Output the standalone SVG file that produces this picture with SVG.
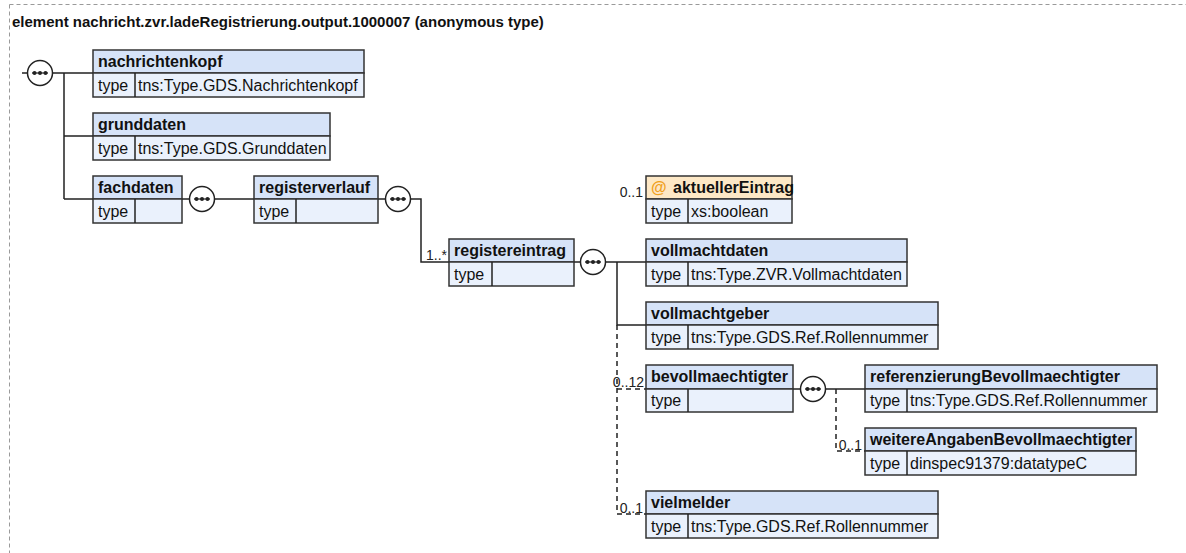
<svg xmlns="http://www.w3.org/2000/svg" width="1186" height="553" viewBox="0 0 1186 553">
<defs>
<style>
.hd{fill:#d6e3f8;stroke:#333;stroke-width:1.5}
.ad{fill:#fde8c6;stroke:#333;stroke-width:1.5}
.tr{fill:#eaf1fc;stroke:#333;stroke-width:1.5}
.nm{font-family:"Liberation Sans",Arial,sans-serif;font-size:16px;font-weight:bold;fill:#111}
.tx{font-family:"Liberation Sans",Arial,sans-serif;font-size:16px;fill:#111}
.lb{font-family:"Liberation Sans",Arial,sans-serif;font-size:14px;fill:#222}
.ln{stroke:#222;stroke-width:1.5;fill:none}
.dl{stroke:#222;stroke-width:1.5;fill:none;stroke-dasharray:5,4}
.ttl{font-family:"Liberation Sans",Arial,sans-serif;font-size:15px;font-weight:bold;fill:#111}
</style>
<g id="seq">
<circle cx="0" cy="0" r="12.5" fill="#fff" stroke="#222" stroke-width="1.5"/>
<line x1="-8" y1="0" x2="8" y2="0" stroke="#222" stroke-width="1.2"/>
<circle cx="-5.5" cy="0" r="2" fill="#222"/>
<circle cx="0" cy="0" r="2" fill="#222"/>
<circle cx="5.5" cy="0" r="2" fill="#222"/>
</g>
</defs>
<rect width="1186" height="553" fill="#fff"/>
<path d="M9.5 4.5H1186M9.5 4.5V553" stroke="#9a9a9a" stroke-width="1" stroke-dasharray="4,3" fill="none"/>
<text class="ttl" x="12" y="27">element nachricht.zvr.ladeRegistrierung.output.1000007 (anonymous type)</text>

<g id="connectors">
<path class="ln" d="M22 73H28M53 73H93M64 73V199M64 136H93M64 199H93"/>
<path class="ln" d="M182 199H190M215 199H254"/>
<path class="ln" d="M378 199H386M411 199H421V262H449"/>
<path class="ln" d="M574 262H581M606 262H646M617 262V325H646"/>
<path class="dl" d="M617 325V514H646M617 389H646"/>
<path class="ln" d="M793 389H801M826 389H865"/>
<path class="dl" d="M836 389V451H865"/>
<text class="lb" x="447" y="260" text-anchor="end">1..*</text>
<text class="lb" x="643" y="197" text-anchor="end">0..1</text>
<text class="lb" x="644" y="387" text-anchor="end">0..12</text>
<text class="lb" x="862" y="450" text-anchor="end">0..1</text>
<text class="lb" x="643" y="513" text-anchor="end">0..1</text>
</g>

<g id="root-seq"><use href="#seq" x="40" y="73"/></g>

<g id="nachrichtenkopf">
<rect class="hd" x="93" y="50" width="271" height="23"/>
<rect class="tr" x="93" y="73" width="271" height="24"/>
<line class="ln" x1="135" y1="73" x2="135" y2="97"/>
<text class="nm" x="98" y="67">nachrichtenkopf</text>
<text class="tx" x="98" y="91">type</text>
<text class="tx" x="138" y="91">tns:Type.GDS.Nachrichtenkopf</text>
</g>

<g id="grunddaten">
<rect class="hd" x="93" y="113" width="237" height="23"/>
<rect class="tr" x="93" y="136" width="237" height="24"/>
<line class="ln" x1="135" y1="136" x2="135" y2="160"/>
<text class="nm" x="98" y="130">grunddaten</text>
<text class="tx" x="98" y="154">type</text>
<text class="tx" x="138" y="154">tns:Type.GDS.Grunddaten</text>
</g>

<g id="fachdaten">
<rect class="hd" x="93" y="176" width="89" height="23"/>
<rect class="tr" x="93" y="199" width="89" height="24"/>
<line class="ln" x1="135" y1="199" x2="135" y2="223"/>
<text class="nm" x="98" y="193">fachdaten</text>
<text class="tx" x="98" y="217">type</text>
</g>
<g id="fachdaten-seq"><use href="#seq" x="202" y="199"/></g>

<g id="registerverlauf">
<rect class="hd" x="254" y="176" width="124" height="23"/>
<rect class="tr" x="254" y="199" width="124" height="24"/>
<line class="ln" x1="296" y1="199" x2="296" y2="223"/>
<text class="nm" x="259" y="193">registerverlauf</text>
<text class="tx" x="259" y="217">type</text>
</g>
<g id="registerverlauf-seq"><use href="#seq" x="398" y="199"/></g>

<g id="registereintrag">
<rect class="hd" x="449" y="239" width="125" height="23"/>
<rect class="tr" x="449" y="262" width="125" height="24"/>
<line class="ln" x1="492" y1="262" x2="492" y2="286"/>
<text class="nm" x="454" y="256">registereintrag</text>
<text class="tx" x="454" y="280">type</text>
</g>
<g id="registereintrag-seq"><use href="#seq" x="593" y="262"/></g>

<g id="aktuellerEintrag">
<rect class="ad" x="646" y="176" width="146" height="23"/>
<rect class="tr" x="646" y="199" width="146" height="24"/>
<line class="ln" x1="688" y1="199" x2="688" y2="223"/>
<text class="nm" x="651" y="193"><tspan fill="#f0a020">@</tspan><tspan x="673">aktuellerEintrag</tspan></text>
<text class="tx" x="651" y="217">type</text>
<text class="tx" x="691" y="217">xs:boolean</text>
</g>

<g id="vollmachtdaten">
<rect class="hd" x="646" y="239" width="261" height="23"/>
<rect class="tr" x="646" y="262" width="261" height="24"/>
<line class="ln" x1="688" y1="262" x2="688" y2="286"/>
<text class="nm" x="651" y="256">vollmachtdaten</text>
<text class="tx" x="651" y="280">type</text>
<text class="tx" x="691" y="280">tns:Type.ZVR.Vollmachtdaten</text>
</g>

<g id="vollmachtgeber">
<rect class="hd" x="646" y="302" width="292" height="23"/>
<rect class="tr" x="646" y="325" width="292" height="24"/>
<line class="ln" x1="688" y1="325" x2="688" y2="349"/>
<text class="nm" x="651" y="319">vollmachtgeber</text>
<text class="tx" x="651" y="343">type</text>
<text class="tx" x="691" y="343">tns:Type.GDS.Ref.Rollennummer</text>
</g>

<g id="bevollmaechtigter">
<rect class="hd" x="646" y="365" width="147" height="24"/>
<rect class="tr" x="646" y="389" width="147" height="23"/>
<line class="ln" x1="688" y1="389" x2="688" y2="412"/>
<text class="nm" x="651" y="382">bevollmaechtigter</text>
<text class="tx" x="651" y="406">type</text>
</g>
<g id="bevollmaechtigter-seq"><use href="#seq" x="813" y="389"/></g>

<g id="referenzierungBevollmaechtigter">
<rect class="hd" x="865" y="365" width="292" height="24"/>
<rect class="tr" x="865" y="389" width="292" height="23"/>
<line class="ln" x1="907" y1="389" x2="907" y2="412"/>
<text class="nm" x="870" y="382">referenzierungBevollmaechtigter</text>
<text class="tx" x="870" y="406">type</text>
<text class="tx" x="910" y="406">tns:Type.GDS.Ref.Rollennummer</text>
</g>

<g id="weitereAngabenBevollmaechtigter">
<rect class="hd" x="865" y="428" width="271" height="23"/>
<rect class="tr" x="865" y="451" width="271" height="24"/>
<line class="ln" x1="907" y1="451" x2="907" y2="475"/>
<text class="nm" x="870" y="445">weitereAngabenBevollmaechtigter</text>
<text class="tx" x="870" y="469">type</text>
<text class="tx" x="910" y="469">dinspec91379:datatypeC</text>
</g>

<g id="vielmelder">
<rect class="hd" x="646" y="491" width="292" height="23"/>
<rect class="tr" x="646" y="514" width="292" height="24"/>
<line class="ln" x1="688" y1="514" x2="688" y2="538"/>
<text class="nm" x="651" y="508">vielmelder</text>
<text class="tx" x="651" y="532">type</text>
<text class="tx" x="691" y="532">tns:Type.GDS.Ref.Rollennummer</text>
</g>
</svg>
